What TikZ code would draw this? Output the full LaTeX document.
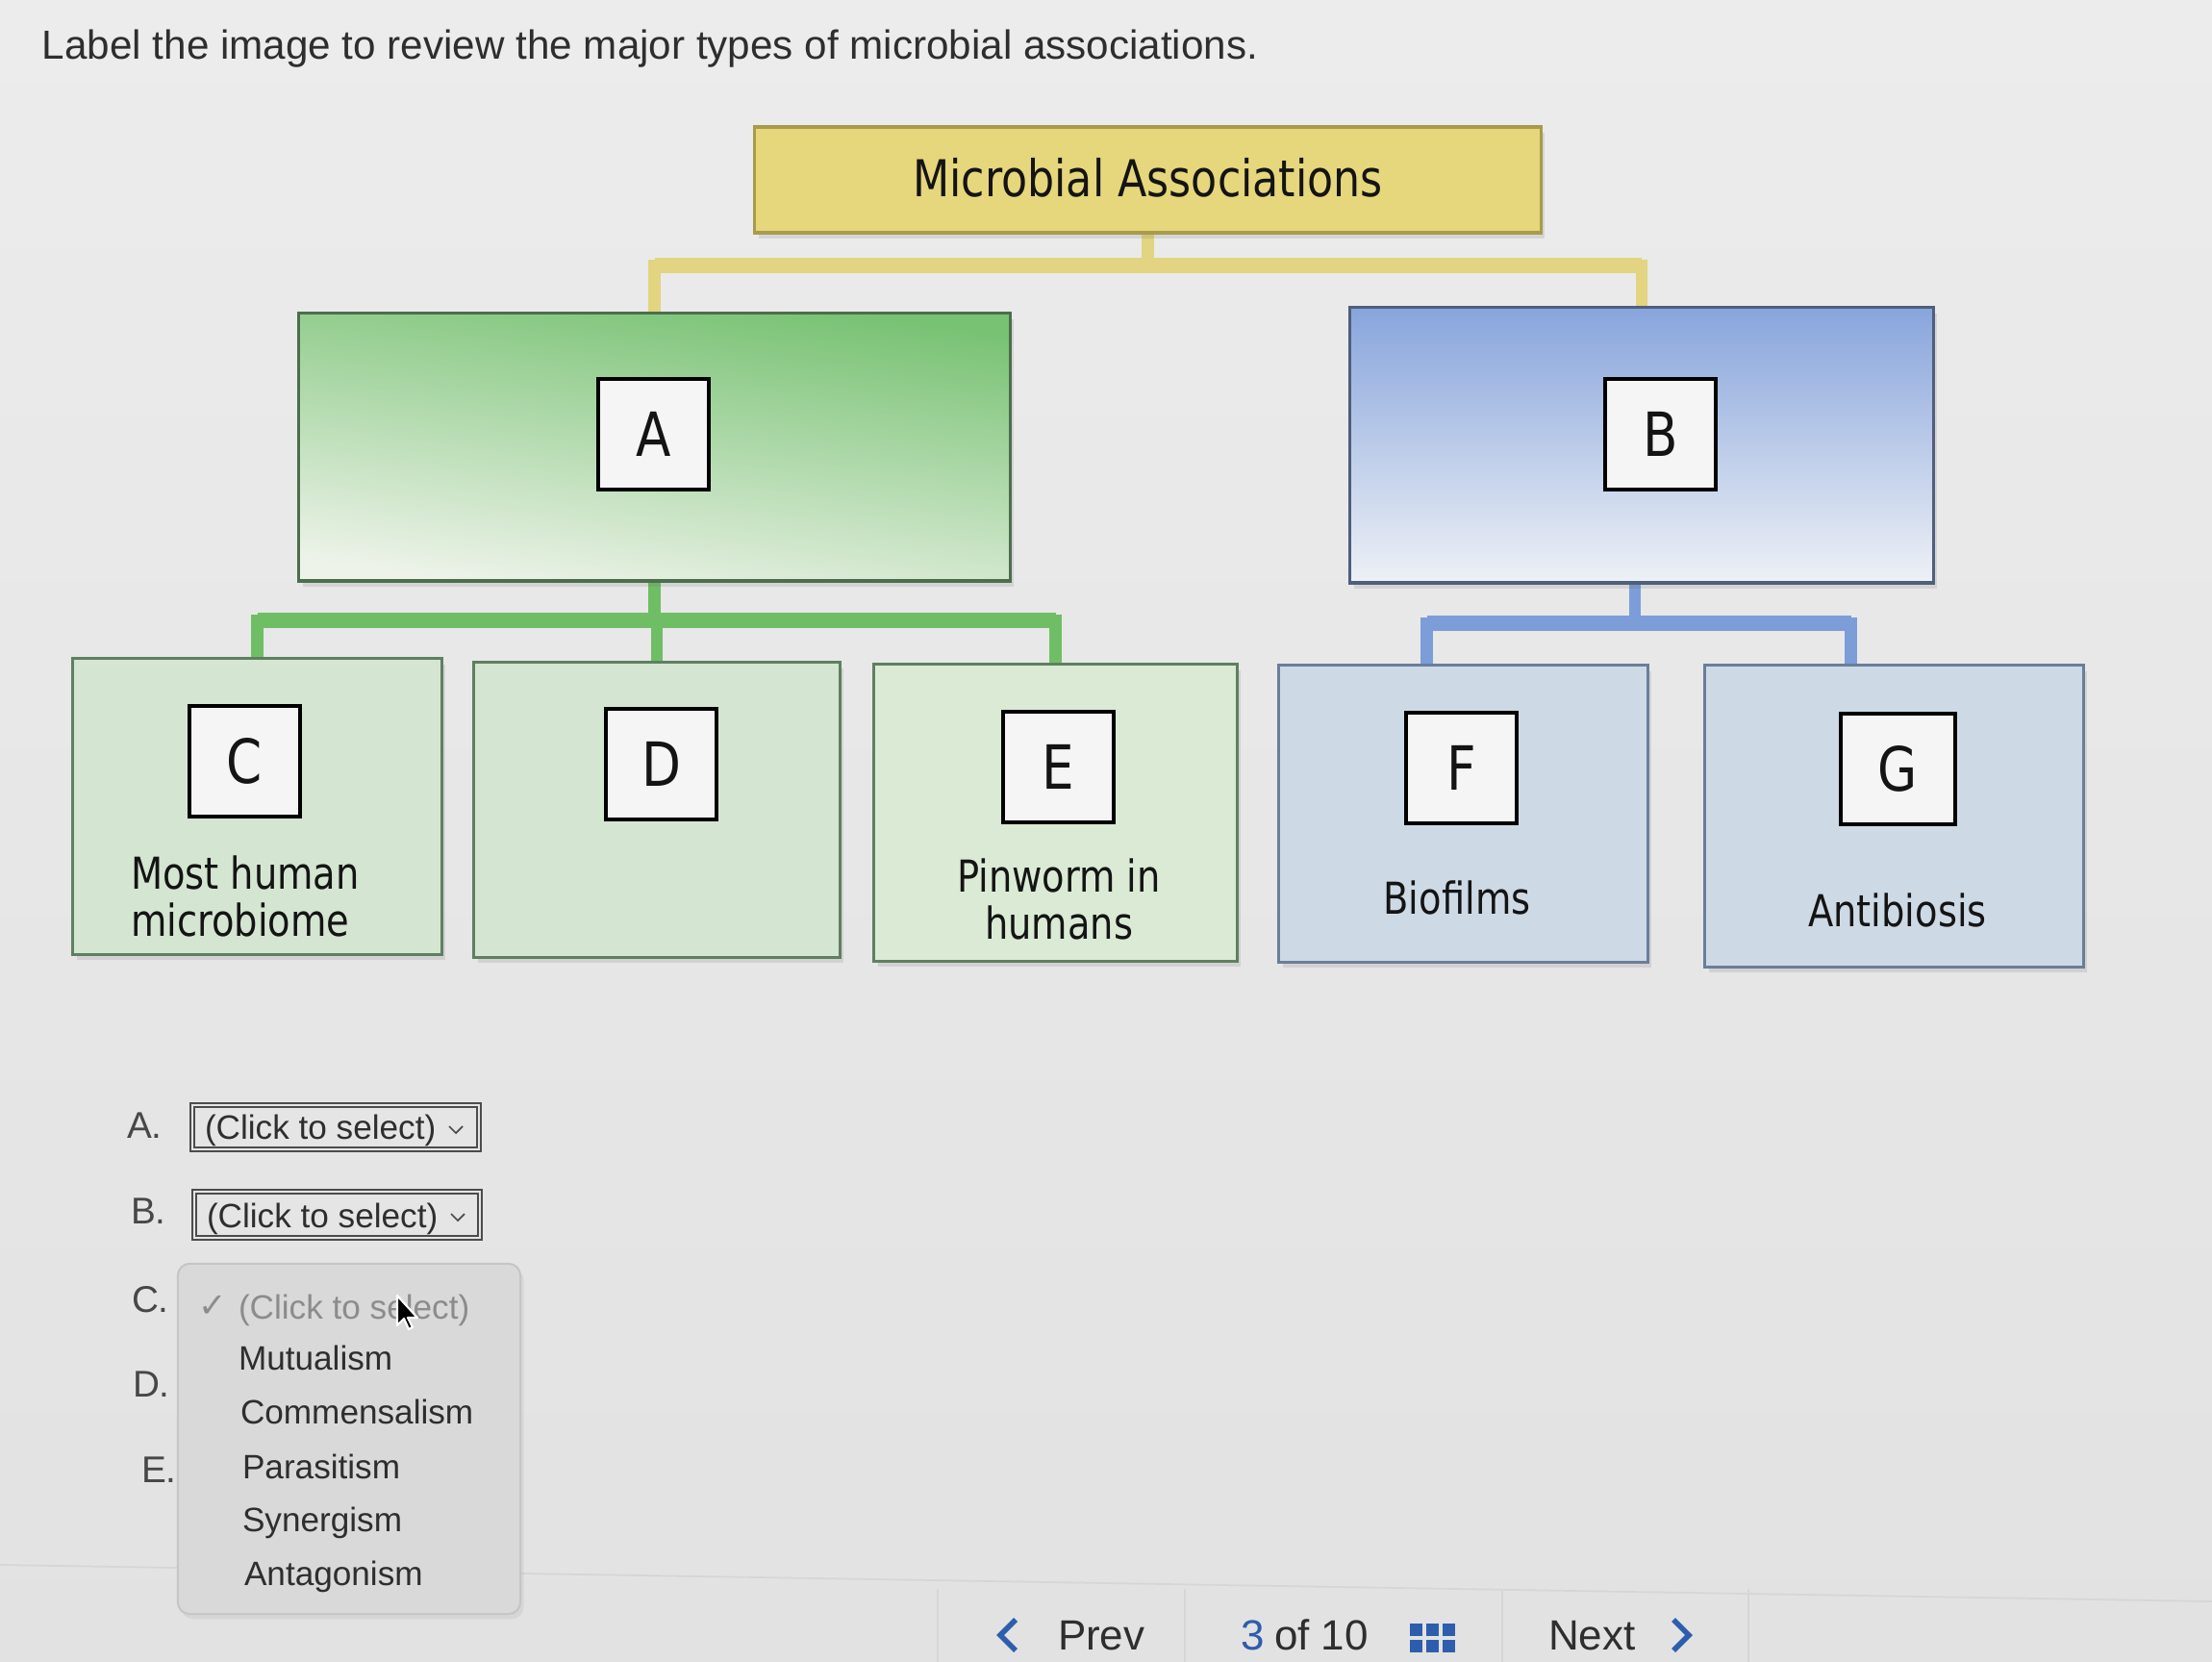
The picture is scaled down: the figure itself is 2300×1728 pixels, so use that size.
\documentclass[tikz,border=0pt]{standalone}
\usepackage{fontspec}
\usepackage{graphicx}
\setmainfont{Liberation Sans}
\newfontfamily\dvs{DejaVu Sans}
\usetikzlibrary{calc,shadows}
\pgfdeclarelayer{back}
\pgfdeclarelayer{conn}
\pgfsetlayers{back,conn,main}
\definecolor{bgtop}{HTML}{ECECEC}
\definecolor{bgbot}{HTML}{E2E2E2}
\definecolor{ylwfill}{HTML}{E6D67C}
\definecolor{ylwedge}{HTML}{A89B4C}
\definecolor{ylwline}{HTML}{E2D480}
\definecolor{grntop}{HTML}{78C273}
\definecolor{grnbot}{HTML}{EEF3EA}
\definecolor{grnedge}{HTML}{4C6E4D}
\definecolor{grnline}{HTML}{6FBE66}
\definecolor{grnpale}{HTML}{D4E5D1}
\definecolor{grnpaleb}{HTML}{DAEAD5}
\definecolor{grnpaleedge}{HTML}{5F7F61}
\definecolor{blutop}{HTML}{88A5DC}
\definecolor{blubot}{HTML}{EEF1F6}
\definecolor{bluedge}{HTML}{4F5F7C}
\definecolor{bluline}{HTML}{7C9DD8}
\definecolor{blupale}{HTML}{CED9E6}
\definecolor{blupaleedge}{HTML}{6A7E98}
\definecolor{ink}{HTML}{141414}
\definecolor{uiink}{HTML}{2E2E2E}
\definecolor{menufill}{HTML}{D9D9D9}
\definecolor{menuedge}{HTML}{C6C6C6}
\definecolor{menugray}{HTML}{8C8C8C}
\definecolor{navblue}{HTML}{2F5DAE}
\definecolor{faint}{HTML}{D6D6D6}
\newcommand{\nar}[1]{\scalebox{0.84}[1]{#1}}
\begin{document}
\begin{tikzpicture}[x=0.01cm,y=-0.01cm,
  every node/.style={inner sep=0pt,outer sep=0pt},
  softshadow/.style={drop shadow={opacity=0.16,shadow xshift=1.2pt,shadow yshift=-1.8pt,fill=black!60}},
  titlebox/.style={draw=ylwedge,line width=0.9pt,fill=ylwfill,softshadow,
    font=\dvs\fontsize{15}{15}\selectfont,text=ink},
  bigA/.style={draw=grnedge,line width=0.9pt,softshadow,top color=grntop,bottom color=grnbot,shading angle=-8},
  bigB/.style={draw=bluedge,line width=0.9pt,softshadow,top color=blutop,bottom color=blubot,shading angle=0},
  lowG/.style={draw=grnpaleedge,line width=0.9pt,fill=grnpale,softshadow},
  lowB/.style={draw=blupaleedge,line width=0.9pt,fill=blupale,softshadow},
  lbox/.style={draw=black,line width=1pt,fill=white!96!black,minimum width=1.15cm,minimum height=1.15cm,
    font=\dvs\fontsize{18}{18}\selectfont,text=ink},
  dtxt/.style={font=\dvs\fontsize{13}{13.4}\selectfont,text=ink},
  conn/.style={line width=3.6pt,line join=miter},
  barline/.style={line width=4.4pt},
  ui/.style={font=\fontsize{10}{12}\selectfont,text=uiink},
  letter/.style={font=\fontsize{11}{13}\selectfont,text=black!72},
  ddbox/.style={draw=black!70,line width=0.5pt,double=black!10,double distance=0.7pt},
  chev/.style={draw=black!70,line width=0.5pt},
  menu/.style={draw=menuedge,line width=0.6pt,fill=menufill,rounded corners=3.5pt,
    drop shadow={opacity=0.12,shadow xshift=1pt,shadow yshift=-1.5pt}},
  nav/.style={font=\fontsize{12.5}{14}\selectfont,text=uiink},
  navchev/.style={draw=navblue,line width=1.6pt}
]
\useasboundingbox (0,0) rectangle (2300,1728);
\clip (0,0) rectangle (2300,1728);
\begin{pgfonlayer}{back}
\fill[top color=bgtop,bottom color=bgbot] (0,0) rectangle (2300,1728);
\draw[faint,line width=0.5pt] (0,1627) -- (2300,1665);
\foreach \xx in {975,1232,1562,1818} \draw[faint,line width=0.4pt] (\xx,1652) -- (\xx,1728);
\end{pgfonlayer}

% heading
\node[anchor=base west,font=\fontsize{12}{14}\selectfont,text=uiink] (heading) at (44,62)
  {Label the image to review the major types of microbial associations.};

% diagram boxes
\node[titlebox,minimum width=8.17cm,minimum height=1.10cm] (top) at (1193.5,187) {\raisebox{1.6pt}{\nar{Microbial Associations}}};
\node[bigA,minimum width=7.39cm,minimum height=2.78cm] (A) at (680.5,465) {};
\node[bigB,minimum width=6.06cm,minimum height=2.86cm] (B) at (1707,463) {};
\node[lbox] (Al) at (679.5,451.5) {\nar{A}};
\node[lbox] (Bl) at (1726.5,451.5) {\nar{B}};

\node[lowG,minimum width=3.83cm,minimum height=3.07cm] (C) at (267.5,838.5) {};
\node[lowG,minimum width=3.80cm,minimum height=3.06cm] (D) at (683,842) {};
\node[lowG,fill=grnpaleb,minimum width=3.77cm,minimum height=3.08cm] (E) at (1097.5,845) {};
\node[lowB,minimum width=3.83cm,minimum height=3.08cm] (F) at (1521.5,846) {};
\node[lowB,minimum width=3.93cm,minimum height=3.13cm] (G) at (1969.5,848.5) {};

\node[lbox] (Cl) at (254.5,791.5) {\nar{C}};
\node[lbox] (Dl) at (687.5,794.5) {\nar{D}};
\node[lbox] (El) at (1100.5,797.5) {\nar{E}};
\node[lbox] (Fl) at (1519.5,798.5) {\nar{F}};
\node[lbox,minimum width=1.19cm] (Gl) at (1973.5,799.5) {\nar{G}};

\node[dtxt,anchor=west] (Ct) at (136,939) {\nar{\begin{tabular}{@{}l@{}}Most human\\microbiome\end{tabular}}};
\node[dtxt] (Et) at (1101,942) {\nar{\begin{tabular}{@{}c@{}}Pinworm in\\humans\end{tabular}}};
\node[dtxt] (Ft) at (1515,933) {\nar{Biofilms}};
\node[dtxt] (Gt) at (1973,946) {\nar{Antibiosis}};

% connectors
\coordinate (yb) at (0,276);
\coordinate (gb) at (0,645);
\coordinate (bb) at (0,648);
\begin{pgfonlayer}{conn}
\draw[conn,ylwline] (top.south) -- (top.south |- yb);
\draw[conn,ylwline] (A.north) -- (A.north |- yb) -- (B.north |- yb) -- (B.north);
\draw[barline,ylwline] (A.north |- yb) -- (B.north |- yb);
\draw[conn,grnline] (A.south) -- (A.south |- gb);
\draw[conn,grnline] (C.north) -- (C.north |- gb) -- (E.north |- gb) -- (E.north);
\draw[barline,grnline] (C.north |- gb) -- (E.north |- gb);
\draw[conn,grnline] (D.north |- gb) -- (D.north);
\coordinate (Bc) at ($(B.south)+(-7,0)$);
\coordinate (Fc) at ($(F.north)+(-38,0)$);
\coordinate (Gc) at ($(G.north)+(-45,0)$);
\draw[conn,bluline] (Bc) -- (Bc |- bb);
\draw[conn,bluline] (Fc) -- (Fc |- bb) -- (Gc |- bb) -- (Gc);
\draw[barline,bluline] (Fc |- bb) -- (Gc |- bb);
\end{pgfonlayer}

% answer area
\node[letter,anchor=base west] (la) at (132,1183) {A.};
\node[letter,anchor=base west] (lb) at (136,1272) {B.};
\node[letter,anchor=base west] (lc) at (137,1364) {C.};
\node[letter,anchor=base west] (ld) at (138,1452) {D.};
\node[letter,anchor=base west] (le) at (147,1541) {E.};

\node[ddbox,minimum width=2.98cm,minimum height=0.46cm] (ddA) at (349,1172) {};
\node[ui,anchor=base west] (ddAt) at (213,1184) {(Click to select)};
\draw[chev] (467,1171) -- (474,1178) -- (481,1171);
\node[ddbox,minimum width=2.97cm,minimum height=0.48cm] (ddB) at (350.5,1263) {};
\node[ui,anchor=base west] (ddBt) at (215,1276) {(Click to select)};
\draw[chev] (469,1262) -- (476,1269) -- (483,1262);

\node[menu,minimum width=3.56cm,minimum height=3.64cm] (menu) at (363,1496) {};
\node[text=menugray,font=\dvs\fontsize{10}{12}\selectfont,anchor=base west] (chk) at (206,1369) {✓};
\node[ui,text=menugray,anchor=base west] (m0) at (248,1371) {(Click to select)};
\node[ui,anchor=base west] (m1) at (248,1424) {Mutualism};
\node[ui,anchor=base west] (m2) at (250,1480) {Commensalism};
\node[ui,anchor=base west] (m3) at (252,1537) {Parasitism};
\node[ui,anchor=base west] (m4) at (252,1592) {Synergism};
\node[ui,anchor=base west] (m5) at (254,1648) {Antagonism};

% mouse pointer
\draw[fill=black,draw=white,line width=0.6pt,line join=round]
  (413,1347) -- ++(0,31) -- ++(7,-7) -- ++(5,11) -- ++(4,-2) -- ++(-5,-10) -- ++(10,0) -- cycle;

% navigation
\draw[navchev] (1056,1684) -- (1040,1700) -- (1056,1716);
\node[nav,anchor=base west] (prev) at (1100,1715) {Prev};
\node[nav,anchor=base west,text=navblue] (pg) at (1290,1715) {3};
\node[nav,anchor=base west] (of) at (1325,1715) {of 10};
\foreach \gx in {1466,1483,1500} \foreach \gy in {1688,1705} \fill[navblue] (\gx,\gy) rectangle ++(13,13);
\node[nav,anchor=base west] (next) at (1610,1715) {Next};
\draw[navchev] (1740,1684) -- (1756,1700) -- (1740,1716);
\end{tikzpicture}
\end{document}
